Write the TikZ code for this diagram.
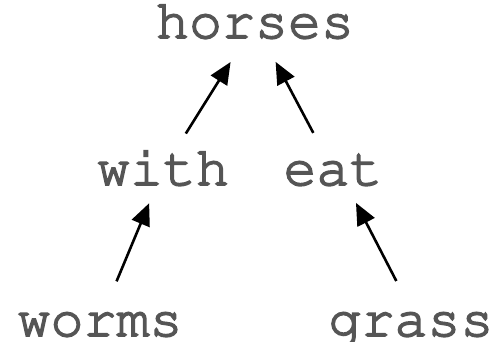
\documentclass[tikz,border=0pt]{standalone}
\usepackage[T1]{fontenc}
\usetikzlibrary{arrows.meta,positioning}
\definecolor{wordgray}{HTML}{555555}

\begin{document}
\begin{tikzpicture}[x=1pt,y=-1pt,->,>={Triangle[length=22pt,width=19pt]},line width=2.6pt]
% courier words, filled and stroked a little to look heavier
\tikzstyle{word}=[font=\fontfamily{pcr}\fontsize{55}{60}\selectfont,text=wordgray,inner sep=0pt,anchor=base,text height=30pt,text depth=0pt,execute at begin node=\special{pdf:literal direct 2 Tr 1.6 w},execute at end node=\special{pdf:literal direct 0 Tr}]
\useasboundingbox (0,0) rectangle (493,341);

\node[word]		(horses) at (255,38)  {horses};
\node[word]		(with)   at (163,185) {with};
\node[word]		(eat)    at (333,185) {eat};
\node[word]		(worms)  at (100,336) {worms};
\node[word]		(grass)  at (411,336) {grass};

\draw[shorten <=43pt,shorten >=46pt] (with.center) -- (horses.center);
\draw[shorten <=42pt,shorten >=44pt] (eat.center) -- (horses.center);
\draw[shorten <=43pt,shorten >=36pt] (worms.center) -- (with.center);
\draw[shorten <=45pt,shorten >=37pt] ([xshift=6pt]grass.center) -- ([xshift=6pt]eat.center);
    \end{tikzpicture}
\end{document}
